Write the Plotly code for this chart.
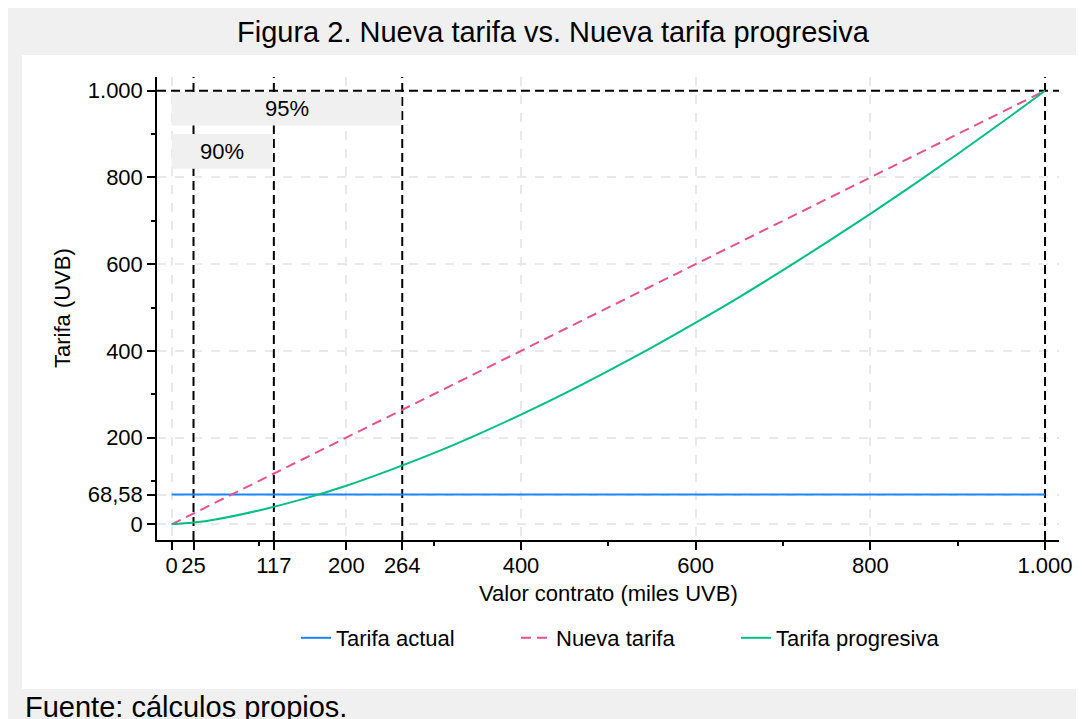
import plotly.graph_objects as go

# ---------------- data ----------------
x_actual = [0, 1000]
y_actual = [68.58, 68.58]

x_nueva = [0, 1000]
y_nueva = [0, 1000]

x_prog = [0, 25, 50, 100, 150, 200, 250, 300, 350, 400, 450, 500,
          550, 600, 650, 700, 750, 800, 850, 900, 950, 1000]
y_prog = [0, 4, 11, 32, 58, 89, 125, 164, 207, 253, 302, 354,
          408, 465, 524, 586, 650, 716, 784, 854, 926, 1000]

x_tickvals = [0, 25, 117, 200, 264, 400, 600, 800, 1000]
x_ticktext = ["0", "25", "117", "200", "264", "400", "600", "800", "1.000"]
y_tickvals = [0, 68.58, 200, 400, 600, 800, 1000]
y_ticktext = ["0", "68,58", "200", "400", "600", "800", "1.000"]
minor_vals = [100, 300, 500, 700, 900]

x_lines = [25, 117, 264, 1000]
y_lines = [1000]

band_x0 = [0, 0]
band_x1 = [263, 116]
band_y0 = [920, 820]
band_y1 = [997, 900]
band_labels = ["95%", "90%"]

# ---------------- layout geometry ----------------
W_FIG, H_FIG = 1084, 719
OFF = 8  # page body margin
L, R, T, B = 157 - OFF, 1059 - OFF, 77 - OFF, 540 - OFF
PW, PH = R - L, B - T
X_RANGE = [-16.8, 1016]
Y_RANGE = [-36.2, 1031.6]


def px_x(px):
    """page pixel x -> paper coordinate"""
    return (px - OFF - L) / PW


def px_y(py):
    """page pixel y -> paper coordinate"""
    return (B - (py - OFF)) / PH


FONT = "Liberation Sans, Arial, Helvetica, sans-serif"
BLUE = "#1a85ff"
PINK = "#e6528a"
GREEN = "#00bf7f"
FS = 22

fig = go.Figure()
fig.add_trace(go.Scatter(x=x_actual, y=y_actual, mode="lines", name="Tarifa actual",
                         line=dict(color=BLUE, width=2)))
fig.add_trace(go.Scatter(x=x_nueva, y=y_nueva, mode="lines", name="Nueva tarifa",
                         line=dict(color=PINK, width=2, dash="10px,6px")))
fig.add_trace(go.Scatter(x=x_prog, y=y_prog, mode="lines", name="Tarifa progresiva",
                         line=dict(color=GREEN, width=2, shape="spline")))

shapes = []
# inner white panel (paper itself is light gray)
shapes.append(dict(type="rect", xref="paper", yref="paper",
                   x0=px_x(22), x1=px_x(1081), y0=px_y(689), y1=px_y(55),
                   fillcolor="white", line=dict(width=0), layer="below"))
# reference lines, with a white backing that hides the grid in the dash gaps
for col, extra in (("white", {}), ("black", {"dash": "9px,5px"})):
    for xv in x_lines:
        shapes.append(dict(type="line", xref="x", yref="y", x0=xv, x1=xv,
                           y0=Y_RANGE[0], y1=Y_RANGE[1],
                           line=dict(color=col, width=2.5 if col == "white" else 2, **extra),
                           layer="between"))
    for yv in y_lines:
        shapes.append(dict(type="line", xref="x", yref="y", x0=X_RANGE[0], x1=X_RANGE[1],
                           y0=yv, y1=yv,
                           line=dict(color=col, width=2.5 if col == "white" else 2, **extra),
                           layer="between"))
# shaded bands, drawn over the reference lines
for x0, x1, y0, y1 in zip(band_x0, band_x1, band_y0, band_y1):
    shapes.append(dict(type="rect", xref="x", yref="y", x0=x0, x1=x1, y0=y0, y1=y1,
                       fillcolor="#f0f0f0", line=dict(width=0), layer="between"))

annotations = []
for x0, x1, y0, y1, lab in zip(band_x0, band_x1, band_y0, band_y1, band_labels):
    annotations.append(dict(x=(x0 + x1) / 2, y=(y0 + y1) / 2, xref="x", yref="y",
                            text=lab, showarrow=False, xanchor="center", yanchor="middle",
                            font=dict(size=FS, color="black", family=FONT)))
annotations.append(dict(x=px_x(553), y=px_y(32), xref="paper", yref="paper",
                        text="Figura 2. Nueva tarifa vs. Nueva tarifa progresiva",
                        showarrow=False, xanchor="center", yanchor="middle",
                        font=dict(size=29, color="black", family=FONT)))
annotations.append(dict(x=px_x(608), y=px_y(593), xref="paper", yref="paper",
                        text="Valor contrato (miles UVB)", showarrow=False,
                        xanchor="center", yanchor="middle",
                        font=dict(size=FS, color="black", family=FONT)))
annotations.append(dict(x=px_x(62), y=px_y(308), xref="paper", yref="paper",
                        text="Tarifa (UVB)", showarrow=False, textangle=-90,
                        xanchor="center", yanchor="middle",
                        font=dict(size=FS, color="black", family=FONT)))
annotations.append(dict(x=px_x(23), y=px_y(707), xref="paper", yref="paper",
                        text="Fuente: cálculos propios.", showarrow=False,
                        xanchor="left", yanchor="middle",
                        font=dict(size=29, color="black", family=FONT)))

axis_common = dict(
    ticks="outside", ticklen=8, tickwidth=1.5, tickcolor="black",
    showline=True, linecolor="black", linewidth=1.5, mirror=False,
    showgrid=True, gridcolor="#e9e9e9", gridwidth=1.5, griddash="dash",
    zeroline=False, tickmode="array",
    tickfont=dict(size=FS, color="black", family=FONT),
    minor=dict(tickmode="array", tickvals=minor_vals, ticks="outside", ticklen=4,
               tickwidth=1.5, tickcolor="black", showgrid=False),
)

fig.update_layout(
    width=W_FIG, height=H_FIG, autosize=False,
    margin=dict(l=L, r=W_FIG - R, t=T, b=H_FIG - B, pad=0),
    paper_bgcolor="#f0f0f0", plot_bgcolor="white",
    font=dict(family=FONT, size=FS, color="black"),
    xaxis=dict(range=X_RANGE, tickvals=x_tickvals, ticktext=x_ticktext,
               ticklabelstandoff=-3, **axis_common),
    yaxis=dict(range=Y_RANGE, tickvals=y_tickvals, ticktext=y_ticktext, **axis_common),
    shapes=shapes,
    annotations=annotations,
    showlegend=True,
    legend=dict(orientation="h", x=px_x(296), xanchor="left", y=px_y(638), yanchor="middle",
                font=dict(size=FS, color="black", family=FONT), bgcolor="rgba(0,0,0,0)",
                entrywidth=175, entrywidthmode="pixels", traceorder="normal"),
)

fig.write_html("out.html")
